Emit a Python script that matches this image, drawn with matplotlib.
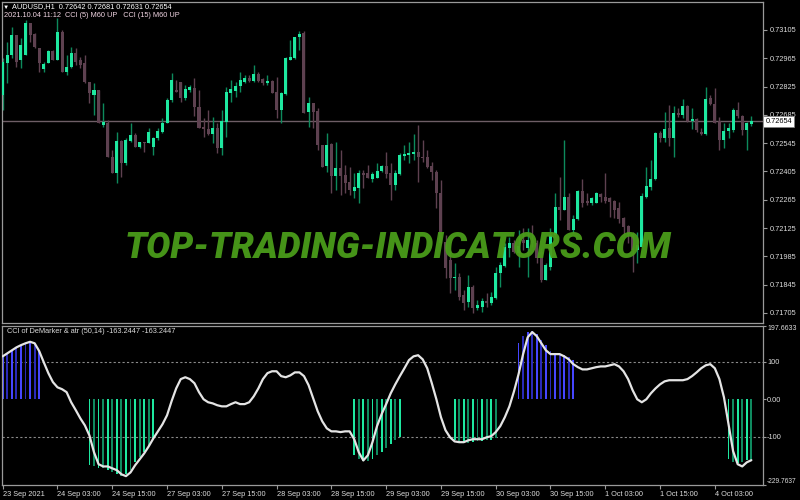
import matplotlib
matplotlib.use("Agg")
import matplotlib.pyplot as plt
import matplotlib.transforms as mtransforms

# AUDUSD H1 candles, 23 Sep 2021 15:00 .. 4 Oct 2021 11:00
opens = [0.72783, 0.72941, 0.72981, 0.73080, 0.72956, 0.72981, 0.73139, 0.73085, 0.73016, 0.72912,
         0.72941, 0.73001, 0.72956, 0.73095, 0.72897, 0.72922, 0.72991, 0.72956, 0.72941, 0.72847,
         0.72783, 0.72808, 0.72635, 0.72645, 0.72476, 0.72397, 0.72555, 0.72447, 0.72555, 0.72585,
         0.72526, 0.72550, 0.72546, 0.72526, 0.72570, 0.72600, 0.72645, 0.72758, 0.72808, 0.72847,
         0.72768, 0.72808, 0.72818, 0.72724, 0.72625, 0.72615, 0.72590, 0.72620, 0.72521, 0.72649,
         0.72793, 0.72803, 0.72828, 0.72847, 0.72867, 0.72852, 0.72887, 0.72862, 0.72842, 0.72852,
         0.72798, 0.72709, 0.72788, 0.72956, 0.72966, 0.73070, 0.73090, 0.72699, 0.72743, 0.72704,
         0.72536, 0.72432, 0.72541, 0.72382, 0.72422, 0.72387, 0.72353, 0.72308, 0.72323, 0.72397,
         0.72397, 0.72367, 0.72372, 0.72407, 0.72432, 0.72397, 0.72338, 0.72392, 0.72481, 0.72486,
         0.72491, 0.72501, 0.72476, 0.72476, 0.72432, 0.72402, 0.72298, 0.72056, 0.71967, 0.71878,
         0.71883, 0.71794, 0.71759, 0.71833, 0.71729, 0.71734, 0.71764, 0.71754, 0.71779, 0.71902,
         0.71937, 0.72026, 0.72051, 0.72001, 0.72066, 0.72026, 0.72066, 0.72051, 0.72006, 0.71868,
         0.71932, 0.72090, 0.72229, 0.72214, 0.72278, 0.72115, 0.72170, 0.72308, 0.72259, 0.72249,
         0.72249, 0.72293, 0.72278, 0.72273, 0.72259, 0.72224, 0.72175, 0.72135, 0.72095, 0.72016,
         0.72031, 0.72278, 0.72328, 0.72367, 0.72595, 0.72570, 0.72620, 0.72570, 0.72694, 0.72684,
         0.72729, 0.72654, 0.72664, 0.72600, 0.72590, 0.72768, 0.72738, 0.72654, 0.72560, 0.72605,
         0.72610, 0.72709, 0.72679, 0.72610, 0.72642]
highs = [0.72966, 0.73045, 0.73119, 0.73080, 0.73065, 0.73154, 0.73139, 0.73090, 0.73016, 0.72946,
         0.73006, 0.73006, 0.73164, 0.73105, 0.72981, 0.73021, 0.73016, 0.72971, 0.72981, 0.72847,
         0.72842, 0.72808, 0.72743, 0.72659, 0.72511, 0.72600, 0.72560, 0.72570, 0.72645, 0.72595,
         0.72550, 0.72550, 0.72620, 0.72575, 0.72620, 0.72669, 0.72768, 0.72892, 0.72857, 0.72847,
         0.72832, 0.72832, 0.72867, 0.72808, 0.72669, 0.72709, 0.72674, 0.72645, 0.72709, 0.72823,
         0.72857, 0.72847, 0.72897, 0.72882, 0.72882, 0.72931, 0.72897, 0.72867, 0.72882, 0.72857,
         0.72872, 0.72798, 0.72971, 0.73055, 0.73070, 0.73100, 0.73100, 0.72773, 0.72743, 0.72719,
         0.72536, 0.72595, 0.72546, 0.72550, 0.72511, 0.72437, 0.72427, 0.72397, 0.72412, 0.72412,
         0.72437, 0.72402, 0.72447, 0.72437, 0.72501, 0.72447, 0.72412, 0.72496, 0.72536, 0.72550,
         0.72590, 0.72635, 0.72560, 0.72511, 0.72452, 0.72412, 0.72362, 0.72090, 0.72016, 0.71952,
         0.71902, 0.71818, 0.71893, 0.71843, 0.71769, 0.71779, 0.71804, 0.71808, 0.71932, 0.71957,
         0.72051, 0.72081, 0.72066, 0.72115, 0.72125, 0.72125, 0.72140, 0.72066, 0.72026, 0.71952,
         0.72125, 0.72298, 0.72377, 0.72560, 0.72298, 0.72189, 0.72313, 0.72367, 0.72298, 0.72278,
         0.72303, 0.72298, 0.72397, 0.72278, 0.72264, 0.72254, 0.72179, 0.72140, 0.72105, 0.72105,
         0.72298, 0.72427, 0.72461, 0.72600, 0.72605, 0.72699, 0.72734, 0.72729, 0.72719, 0.72763,
         0.72734, 0.72719, 0.72669, 0.72620, 0.72823, 0.72783, 0.72818, 0.72674, 0.72645, 0.72645,
         0.72719, 0.72748, 0.72684, 0.72649, 0.72681]
lows = [0.72709, 0.72842, 0.72966, 0.72922, 0.72917, 0.72981, 0.73045, 0.73016, 0.72897, 0.72897,
        0.72941, 0.72956, 0.72956, 0.72897, 0.72882, 0.72917, 0.72931, 0.72917, 0.72842, 0.72743,
        0.72684, 0.72645, 0.72625, 0.72476, 0.72397, 0.72348, 0.72377, 0.72437, 0.72550, 0.72526,
        0.72521, 0.72501, 0.72546, 0.72486, 0.72560, 0.72595, 0.72645, 0.72748, 0.72798, 0.72748,
        0.72758, 0.72798, 0.72679, 0.72620, 0.72575, 0.72585, 0.72546, 0.72496, 0.72486, 0.72575,
        0.72748, 0.72773, 0.72798, 0.72842, 0.72847, 0.72847, 0.72847, 0.72832, 0.72832, 0.72793,
        0.72669, 0.72645, 0.72783, 0.72956, 0.72961, 0.73006, 0.72694, 0.72625, 0.72620, 0.72511,
        0.72427, 0.72402, 0.72298, 0.72313, 0.72288, 0.72298, 0.72288, 0.72273, 0.72249, 0.72323,
        0.72372, 0.72353, 0.72372, 0.72402, 0.72372, 0.72264, 0.72313, 0.72387, 0.72461, 0.72447,
        0.72461, 0.72353, 0.72452, 0.72422, 0.72362, 0.72224, 0.72051, 0.71878, 0.71804, 0.71818,
        0.71769, 0.71719, 0.71734, 0.71705, 0.71719, 0.71710, 0.71734, 0.71744, 0.71774, 0.71833,
        0.71932, 0.71982, 0.72001, 0.71932, 0.72016, 0.71883, 0.72031, 0.71952, 0.71858, 0.71868,
        0.71917, 0.72081, 0.72165, 0.72214, 0.72115, 0.72100, 0.72165, 0.72229, 0.72239, 0.72239,
        0.72249, 0.72254, 0.72249, 0.72179, 0.72175, 0.72150, 0.72090, 0.72051, 0.71907, 0.71952,
        0.72031, 0.72273, 0.72313, 0.72362, 0.72550, 0.72550, 0.72531, 0.72476, 0.72674, 0.72669,
        0.72649, 0.72615, 0.72600, 0.72585, 0.72585, 0.72734, 0.72645, 0.72511, 0.72521, 0.72570,
        0.72600, 0.72669, 0.72585, 0.72511, 0.72631]
closes = [0.72946, 0.72981, 0.73080, 0.72946, 0.73030, 0.73139, 0.73080, 0.73021, 0.72941, 0.72936,
          0.73001, 0.72956, 0.73095, 0.72897, 0.72922, 0.72991, 0.72946, 0.72931, 0.72847, 0.72793,
          0.72808, 0.72645, 0.72649, 0.72476, 0.72397, 0.72555, 0.72447, 0.72560, 0.72585, 0.72526,
          0.72550, 0.72546, 0.72600, 0.72570, 0.72605, 0.72645, 0.72758, 0.72857, 0.72798, 0.72768,
          0.72813, 0.72823, 0.72724, 0.72620, 0.72615, 0.72590, 0.72620, 0.72521, 0.72654, 0.72798,
          0.72813, 0.72828, 0.72857, 0.72867, 0.72852, 0.72887, 0.72852, 0.72842, 0.72852, 0.72793,
          0.72709, 0.72793, 0.72966, 0.72971, 0.73070, 0.73085, 0.72694, 0.72743, 0.72699, 0.72536,
          0.72427, 0.72536, 0.72382, 0.72422, 0.72382, 0.72348, 0.72313, 0.72328, 0.72397, 0.72387,
          0.72372, 0.72392, 0.72407, 0.72432, 0.72392, 0.72338, 0.72397, 0.72486, 0.72491, 0.72496,
          0.72501, 0.72476, 0.72471, 0.72427, 0.72402, 0.72298, 0.72051, 0.71927, 0.71878, 0.71883,
          0.71784, 0.71754, 0.71833, 0.71729, 0.71744, 0.71764, 0.71754, 0.71784, 0.71902, 0.71942,
          0.72031, 0.72051, 0.72006, 0.72036, 0.72051, 0.72066, 0.72051, 0.71977, 0.71868, 0.71942,
          0.72090, 0.72229, 0.72214, 0.72278, 0.72115, 0.72170, 0.72308, 0.72249, 0.72249, 0.72273,
          0.72298, 0.72278, 0.72259, 0.72254, 0.72214, 0.72170, 0.72130, 0.72095, 0.72016, 0.72041,
          0.72283, 0.72333, 0.72367, 0.72595, 0.72570, 0.72615, 0.72570, 0.72694, 0.72684, 0.72729,
          0.72654, 0.72664, 0.72610, 0.72590, 0.72763, 0.72738, 0.72645, 0.72560, 0.72605, 0.72620,
          0.72709, 0.72679, 0.72610, 0.72645, 0.72654]

# CCI of DeMarker & ATR line, one value per bar
cci = [115, 123, 131, 139, 145, 150, 154, 150, 129, 99,
       70, 46, 32, 27, 19, -8, -29, -51, -70, -97,
       -142, -174, -180, -180, -185, -190, -201, -206, -196, -177,
       -161, -145, -126, -105, -86, -67, -43, -5, 29, 54,
       59, 54, 43, 19, 0, -8, -11, -16, -19, -19,
       -13, -8, -13, -13, -8, 8, 29, 54, 70, 75,
       75, 62, 59, 64, 72, 72, 62, 38, 3, -32,
       -59, -78, -86, -86, -88, -86, -86, -107, -142, -164,
       -150, -115, -72, -40, -13, 16, 40, 62, 83, 105,
       115, 118, 107, 83, 43, 0, -48, -83, -102, -113,
       -115, -115, -110, -107, -107, -107, -102, -99, -88, -72,
       -48, -19, 21, 67, 121, 166, 180, 169, 150, 131,
       121, 121, 121, 115, 107, 94, 86, 80, 80, 83,
       86, 88, 88, 91, 94, 88, 75, 54, 24, 0,
       -8, 0, 16, 29, 40, 48, 51, 51, 51, 51,
       54, 62, 72, 83, 91, 94, 83, 54, 5, -67,
       -139, -174, -180, -169, -163.2447]

# histogram clusters: (first bar index, values)
hist_up = [(0, [113, 121, 129, 139, 145, 150, 153, 147, 129]),
           (113, [150, 170, 180, 182, 175, 160, 145, 130, 125, 120, 118, 112, 105])]
hist_down = [(19, [-175, -180, -183, -185, -190, -195, -200, -205, -200, -190, -169, -155, -142, -126, -107]),
             (77, [-150, -160, -166, -166, -160, -150, -140, -130, -120, -110, -102]),
             (99, [-110, -115, -117, -117, -115, -113, -112, -110, -108, -104]),
             (159, [-160, -168, -172, -168, -163, -163])]

price_ticks = [0.73105, 0.72965, 0.72825, 0.72685, 0.72545, 0.72405,
               0.72265, 0.72125, 0.71985, 0.71845, 0.71705]
last_price = 0.72654
cci_max, cci_min = 197.6633, -229.7637

time_idx = [0, 12, 24, 36, 48, 60, 72, 84, 96, 108, 120, 132, 144, 156]
time_labels = ['23 Sep 2021', '24 Sep 03:00', '24 Sep 15:00', '27 Sep 03:00', '27 Sep 15:00',
               '28 Sep 03:00', '28 Sep 15:00', '29 Sep 03:00', '29 Sep 15:00', '30 Sep 03:00',
               '30 Sep 15:00', '1 Oct 03:00', '1 Oct 15:00', '4 Oct 03:00']

BG = 'black'
FRAME = '#9a9a9a'
TXT = '#dcdcdc'
BULL, BULL_WICK = '#1ee8a0', '#0d8a5c'
BEAR = '#5e4150'
FONT = ['Liberation Sans', 'DejaVu Sans']
FS = 5.3

fig = plt.figure(figsize=(8, 5), dpi=100, facecolor=BG)
ax = fig.add_axes([2 / 800, 177 / 500, 761 / 800, 321.3 / 500], facecolor=BG)
ax2 = fig.add_axes([2 / 800, 15 / 500, 761 / 800, 159.5 / 500], facecolor=BG)

xlim = (-0.153, 166.55)
for a in (ax, ax2):
    a.set_xlim(*xlim)
    for s in a.spines.values():
        s.set_color(FRAME)
        s.set_linewidth(0.9)

# --- candles
n = len(opens)
for i in range(n):
    o, h, l, c = opens[i], highs[i], lows[i], closes[i]
    up = c >= o
    ax.vlines(i, l, h, color=BULL_WICK if up else BEAR, lw=1.0, zorder=2)
    body = max(abs(c - o), 0.00004)
    ax.bar(i, body, bottom=min(o, c), width=0.66, color=BULL if up else BEAR,
           linewidth=0, zorder=3)

ax.axhline(last_price, color='#6e5e66', lw=1.0, zorder=1)
ax.set_ylim(0.716555, 0.73245)
ax.set_xticks([])
ax.yaxis.tick_right()
ax.set_yticks(price_ticks)
ax.set_yticklabels([f'{p:.5f}' for p in price_ticks])
ax.tick_params(axis='y', colors=FRAME, labelcolor=TXT, labelsize=FS, length=3, width=0.8, pad=1.5)
for t in ax.get_yticklabels():
    t.set_family(FONT)
tr = mtransforms.blended_transform_factory(ax.transAxes, ax.transData)
ax.text(1.003, last_price, f'{last_price:.5f}', transform=tr, ha='left', va='center',
        fontsize=FS, color='black', family=FONT, zorder=10, clip_on=False,
        bbox=dict(boxstyle='square,pad=0.25', fc='white', ec='#808080', lw=0.5))

# --- CCI panel
for start, vals in hist_up:
    for k, v in enumerate(vals):
        ax2.bar(start + k, v, width=0.4, color='#4646ff' if k % 2 == 0 else '#2a2ab8', linewidth=0, zorder=2)
for start, vals in hist_down:
    for k, v in enumerate(vals):
        ax2.bar(start + k, v, width=0.4, color=BULL if k % 2 == 0 else '#0f8a5f', linewidth=0, zorder=2)

ax2.plot(range(len(cci)), cci, color='#e4e4e4', lw=1.6, zorder=3, solid_capstyle='round')
for lev in (100, -100):
    ax2.axhline(lev, color='#8a8a8a', lw=0.8, ls=(0, (2, 2)), zorder=1)
ax2.set_ylim(cci_min, cci_max)
ax2.yaxis.tick_right()
ax2.set_yticks([cci_max, 100, 0, -100, cci_min])
ax2.set_yticklabels(['197.6633', '100', '0.00', '-100', '-229.7637'])
ax2.tick_params(axis='y', colors=FRAME, labelcolor=TXT, labelsize=FS, length=2, width=0.8, pad=1.0)
ylabels = ax2.get_yticklabels()
ylabels[0].set_verticalalignment('top')
ylabels[-1].set_verticalalignment('bottom')
for t in ylabels:
    t.set_family(FONT)
ylabels[0].set_fontsize(5.0)
ylabels[-1].set_fontsize(4.8)

ax2.set_xticks(time_idx)
ax2.set_xticklabels(time_labels, ha='left')
ax2.tick_params(axis='x', colors=FRAME, labelcolor=TXT, labelsize=FS, length=3, width=0.8, pad=1.5)
for t in ax2.get_xticklabels():
    t.set_family(FONT)

ax2.text(0.006, 0.985, 'CCI of DeMarker & atr (50,14) -163.2447 -163.2447', transform=ax2.transAxes,
         ha='left', va='top', fontsize=FS, color=TXT, family=FONT, zorder=5)

# --- header
fig.text(3 / 800, 1 - 7 / 500, '\u25bc', ha='left', va='center', fontsize=4.5, color='white', family=FONT)
fig.text(12 / 800, 1 - 7 / 500, 'AUDUSD,H1  0.72642 0.72681 0.72631 0.72654', ha='left', va='center',
         fontsize=FS, color='white', family=FONT)
fig.text(4 / 800, 1 - 15.5 / 500, '2021.10.04 11:12  CCI (5) M60 UP   CCI (15) M60 UP', ha='left',
         va='center', fontsize=FS, color='#f0d4e2', family=FONT)

# --- watermark
fig.text(398 / 800, 1 - 248 / 500, 'TOP-TRADING-INDICATORS.COM', ha='center', va='center',
         fontsize=26, fontweight='black', style='italic', family=['Roboto', 'DejaVu Sans'],
         color='#4a9c1a', alpha=0.95, zorder=20)

fig.savefig('out.png', dpi=100, facecolor=BG)
